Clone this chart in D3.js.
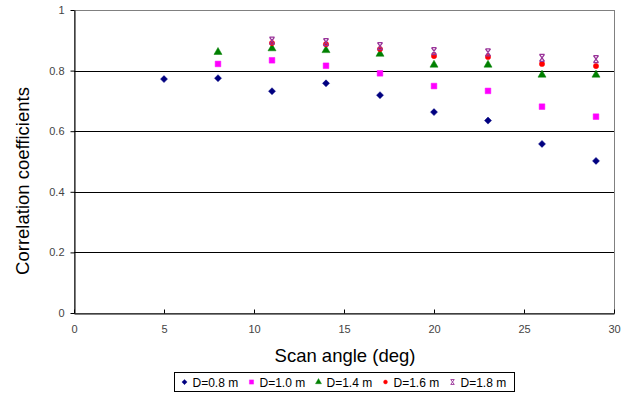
<!DOCTYPE html>
<html>
<head>
<meta charset="utf-8">
<script src="https://cdn.jsdelivr.net/npm/d3@7"></script>
<style>
    body { margin: 0; background: #fff; }
    svg { font-family: "Liberation Sans", Arial, sans-serif; }
</style>
</head>
<body>
<svg id="chart" width="629" height="396"></svg>
<script>
    // values
    var angles = [5, 8, 11, 14, 17, 20, 23, 26, 29];
    var seriesNames = ["D=0.8 m", "D=1.0 m", "D=1.4 m", "D=1.6 m", "D=1.8 m"];
    var d08 = [0.772, 0.775, 0.732, 0.758, 0.719, 0.663, 0.635, 0.558, 0.502];
    var d10 = [null, 0.822, 0.834, 0.816, 0.791, 0.749, 0.733, 0.681, 0.648];
    var d14 = [null, 0.861, 0.873, 0.867, 0.855, 0.819, 0.819, 0.786, 0.786];
    var d16 = [null, null, 0.891, 0.887, 0.871, 0.848, 0.845, 0.822, 0.815];
    var d18 = [null, null, 0.899, 0.894, 0.881, 0.864, 0.860, 0.842, 0.838];
    var yTicks = [0, 0.2, 0.4, 0.6, 0.8, 1];
    var xTicks = [0, 5, 10, 15, 20, 25, 30];

    var allSeries = [d08, d10, d14, d16, d18];
    var colors = ["#000080", "#ff00ff", "#008000", "#ff0000", "#993399"];

    var svg = d3.select("#chart");
    var plotL = 74, plotR = 614, plotT = 10, plotB = 313;

    var x = d3.scaleLinear().domain([0, 30]).range([plotL, plotR]);
    var y = d3.scaleLinear().domain([0, 1]).range([plotB, plotT]);

    // frame
    svg.append("rect")
        .attr("x", plotL + 0.5).attr("y", plotT + 0.5)
        .attr("width", plotR - plotL).attr("height", plotB - plotT)
        .attr("fill", "none").attr("stroke", "#808080").attr("stroke-width", 1);

    // grid lines
    svg.selectAll(".grid")
        .data(yTicks.filter(function (d) { return d > 0 && d < 1; }))
        .enter().append("line")
        .attr("class", "grid")
        .attr("x1", plotL).attr("x2", plotR)
        .attr("y1", function (d) { return Math.round(y(d)) + 0.5; })
        .attr("y2", function (d) { return Math.round(y(d)) + 0.5; })
        .attr("stroke", "#000").attr("stroke-width", 1);

    // axes
    var yAxis = svg.append("g")
        .attr("transform", "translate(" + (plotL + 0.5) + ",0)")
        .call(d3.axisLeft(y).tickValues(yTicks).tickSize(4).tickSizeOuter(0).tickFormat(d3.format("")));
    var xAxis = svg.append("g")
        .attr("transform", "translate(0," + (plotB + 0.5) + ")")
        .call(d3.axisBottom(x).tickValues(xTicks).tickSize(-4).tickSizeOuter(0).tickFormat(d3.format("")));

    [yAxis, xAxis].forEach(function (a) {
        a.select(".domain").attr("stroke", "#000");
        a.selectAll(".tick line").attr("stroke", "#000");
        a.selectAll("text")
            .attr("font-size", "11px")
            .attr("fill", "#444")
            .attr("font-family", "Liberation Sans, Arial, sans-serif");
    });
    yAxis.selectAll("text").attr("x", -10);
    xAxis.selectAll("text").attr("y", 12);

    // axis titles
    svg.append("text")
        .attr("x", 345).attr("y", 362)
        .attr("text-anchor", "middle")
        .attr("font-size", "18.5px")
        .text("Scan angle (deg)");

    svg.append("text")
        .attr("transform", "translate(29,181) rotate(-90)")
        .attr("text-anchor", "middle")
        .attr("font-size", "18.5px")
        .text("Correlation coefficients");

    // markers
    var symbols = [
        null,
        d3.symbol().type(d3.symbolSquare).size(32),
        d3.symbol().type(d3.symbolTriangle).size(28),
        d3.symbol().type(d3.symbolCircle).size(22),
        null
    ];
    var diamond = "M0,-3.5L3.5,0L0,3.5L-3.5,0Z";
    var xMark = "M-2.5,-3.5L2.5,-3.5M-2.5,3.5L2.5,3.5M-2.5,-3.5L2.5,3.5M2.5,-3.5L-2.5,3.5";

    function drawMarker(g, k) {
        if (k == 4) {
            g.append("path").attr("d", xMark)
                .attr("fill", "none").attr("stroke", colors[k]).attr("stroke-width", 1.3);
        } else {
            g.append("path").attr("d", k == 0 ? diamond : symbols[k]())
                .attr("fill", colors[k]).attr("stroke", colors[k]).attr("stroke-width", 0.5);
        }
    }

    allSeries.forEach(function (vals, k) {
        var pts = angles.map(function (a, i) { return {a: a, v: vals[i]}; })
            .filter(function (d) { return d.v != null; });
        svg.selectAll(".s" + k)
            .data(pts)
            .enter().append("g")
            .attr("class", "s" + k)
            .attr("transform", function (d) { return "translate(" + x(d.a) + "," + y(d.v) + ")"; })
            .each(function () { drawMarker(d3.select(this), k); });
    });

    // legend
    var legend = svg.append("g").attr("transform", "translate(174.5,372.5)");
    legend.append("rect")
        .attr("width", 340).attr("height", 19)
        .attr("fill", "#fff").attr("stroke", "#000").attr("stroke-width", 1);

    var items = legend.selectAll(".item")
        .data(seriesNames)
        .enter().append("g")
        .attr("class", "item")
        .attr("transform", function (d, i) { return "translate(" + (10 + i * 67) + ",9.5)"; });

    items.each(function (d, i) {
        var g = d3.select(this).append("g").attr("transform", i == 4 ? "scale(0.7)" : "scale(0.75)");
        drawMarker(g, i);
    });
    items.append("text")
        .attr("x", 8).attr("y", 4.5)
        .attr("font-size", "12px")
        .attr("fill", "#000")
        .text(function (d) { return d; });
</script>
</body>
</html>
